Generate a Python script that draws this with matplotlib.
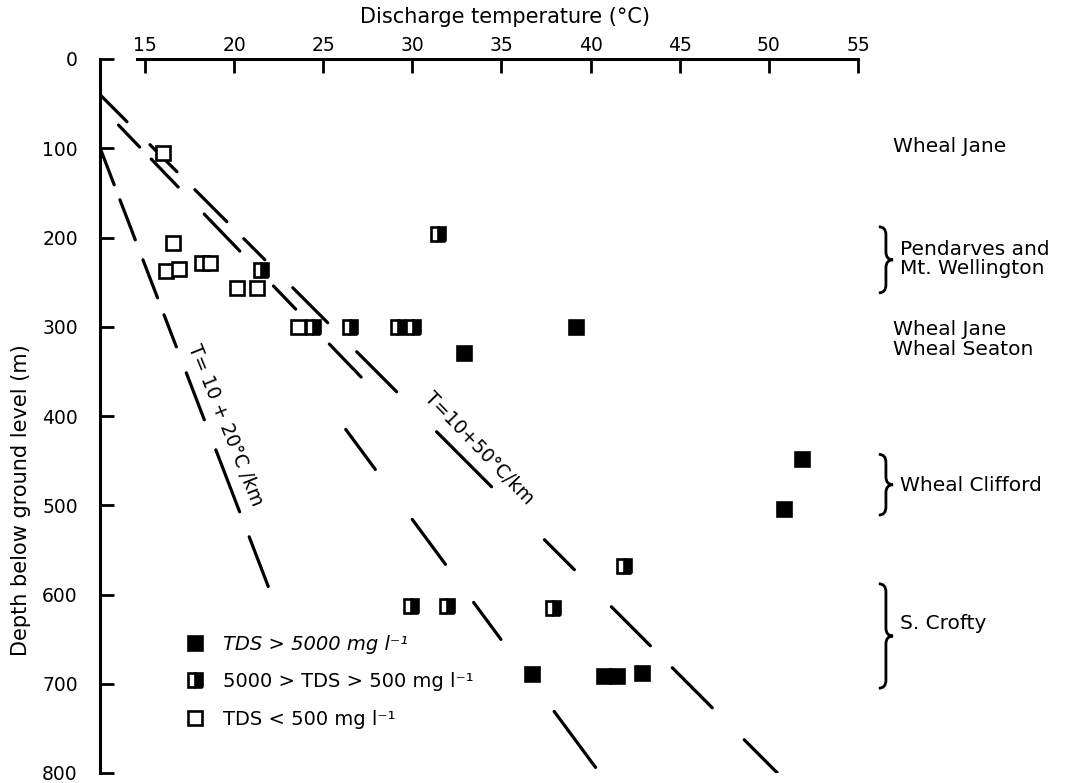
import matplotlib
matplotlib.use("Agg")
import matplotlib.pyplot as plt
import numpy as np
from matplotlib.path import Path
from matplotlib.patches import PathPatch
from matplotlib.lines import Line2D

plt.rcParams['font.family'] = ['DejaVu Sans']
plt.rcParams['lines.scale_dashes'] = False

# ---------------- data ----------------
# TDS < 500 mg/l (open squares)
low_T = [16.0, 16.55, 16.16, 16.9, 18.18, 18.65, 20.18, 21.26, 23.6]
low_d = [105, 206, 237, 235, 229, 229, 257, 257, 300]
# 5000 > TDS > 500 (half-filled squares)
mid_T = [21.5, 24.45, 26.5, 29.2, 30.05, 31.45, 29.9, 31.97, 37.9, 41.9]
mid_d = [236, 300, 300, 300, 300, 196, 613, 613, 615, 568]
# TDS > 5000 (filled squares)
high_T = [39.2, 32.9, 36.74, 40.74, 41.5, 42.9, 51.86, 50.85]
high_d = [300, 329, 689, 691, 691, 688, 448, 504]

# geothermal gradient lines: T = T0 + g * depth/1000
line_T0 = [10.48, 10.91, 10.57, 9.95]
line_g = [50.0, 37.0, 19.2, 48.2]
line_dstart = [40, 415, 99.5, 74]
line_dend = [800, 794, 591, 357]

xticks = [15, 20, 25, 30, 35, 40, 45, 50, 55]
yticks = [0, 100, 200, 300, 400, 500, 600, 700, 800]

# mine labels (right side)
mine_labels = ["Wheal Jane", "Pendarves and\nMt. Wellington", "Wheal Jane\nWheal Seaton",
               "Wheal Clifford", "S. Crofty"]
mine_label_d = [98, 224, 314, 478, 633]
brace_top = [None, 188, None, 443, 588]
brace_bot = [None, 262, None, 511, 705]

legend_labels = ["TDS > 5000 mg l\u207b\u00b9", "5000 > TDS > 500 mg l\u207b\u00b9",
                 "TDS < 500 mg l\u207b\u00b9"]

# ---------------- styles ----------------
# hand-drawn dash sequences, measured in vertical pixels along each line
dash_seq = [
    [27, 23, 27, 18, 32, 17, 21, 28, 35, 29, 40, 40, 55, 53, 30, 37, 39, 22, 40, 32, 33, 60],
    [40, 50, 45, 38, 37, 72, 56, 60],
    [37, 15, 40, 20, 38, 17, 32, 26, 47, 30, 62, 25, 50, 60],
    [22, 12, 28, 27, 37, 35, 23, 35, 33, 60],
]

W, H = 1068, 783
PX_PER_DEG = 17.83
PX_PER_M = 0.8925

fig = plt.figure(figsize=(W / 100, H / 100), dpi=100)
ax = fig.add_axes([100 / W, 1 - 773 / H, 758 / W, 714 / H])
ax.set_xlim(12.48, 55.0)
ax.set_ylim(800, 0)

ax.xaxis.tick_top()
ax.set_xticks(xticks)
ax.set_yticks(yticks)
ax.tick_params(axis='x', direction='in', length=10, width=2, pad=3, labelsize=13.5)
ax.tick_params(axis='y', direction='in', length=10, width=2, pad=16, labelsize=13.5)
ax.spines['bottom'].set_visible(False)
ax.spines['right'].set_visible(False)
ax.spines['top'].set_bounds(14.55, 55)
ax.spines['top'].set_linewidth(2.2)
ax.spines['left'].set_linewidth(2.2)

# gradient lines
for T0, g, d0, d1, seq in zip(line_T0, line_g, line_dstart, line_dend, dash_seq):
    d = np.array([d0, d1], dtype=float)
    T = T0 + g * d / 1000.0
    dxdy = (g / 1000.0 * PX_PER_DEG) / PX_PER_M
    pt_per_py = np.sqrt(1 + dxdy ** 2) * 0.72
    ax.plot(T, d, color='black', lw=2.3, dashes=[s * pt_per_py for s in seq],
            dash_capstyle='round')

# markers
ms, mew = 10.5, 1.9
ax.plot(low_T, low_d, 's', ms=ms, mew=mew, mec='black', mfc='white', ls='none', zorder=5)
ax.plot(mid_T, mid_d, 's', ms=ms, mew=mew, mec='black', mfc='black', fillstyle='right',
        markerfacecoloralt='white', ls='none', zorder=5)
ax.plot(high_T, high_d, 's', ms=ms, mew=mew, mec='black', mfc='black', ls='none', zorder=5)

# rotated line labels
ax.text(19.49, 410, "T= 10 + 20°C /km", rotation=-68, rotation_mode='anchor',
        ha='center', va='center', fontsize=13.5)
ax.text(33.73, 436, "T=10+50°C/km", rotation=-46, rotation_mode='anchor',
        ha='center', va='center', fontsize=13.5)

# right labels and braces
def T_of_px(px):
    return 15 + (px - 145) / PX_PER_DEG

def brace(x0, w, d0, d1, r=9):
    xm = x0 + w * 0.5
    x1 = x0 + w
    mid = 0.5 * (d0 + d1)
    verts = [(x0, d0), (xm, d0), (xm, d0 + r), (xm, mid - r), (xm, mid), (x1, mid),
             (xm, mid), (xm, mid + r), (xm, d1 - r), (xm, d1), (x0, d1)]
    codes = [Path.MOVETO, Path.CURVE3, Path.CURVE3, Path.LINETO, Path.CURVE3, Path.CURVE3,
             Path.CURVE3, Path.CURVE3, Path.LINETO, Path.CURVE3, Path.CURVE3]
    p = PathPatch(Path(verts, codes), fill=False, lw=2, color='black', clip_on=False)
    ax.add_patch(p)

for lab, d, bt, bb in zip(mine_labels, mine_label_d, brace_top, brace_bot):
    if bt is not None:
        brace(T_of_px(879), 0.8, bt, bb)
        xt = T_of_px(900)
    else:
        xt = T_of_px(893)
    ax.text(xt, d, lab, ha='left', va='center', fontsize=14.5, linespacing=1.05,
            clip_on=False)

# legend
handles = [
    Line2D([], [], marker='s', ls='none', ms=ms, mew=mew, mec='black', mfc='black'),
    Line2D([], [], marker='s', ls='none', ms=ms, mew=mew, mec='black', mfc='black',
           fillstyle='right', markerfacecoloralt='white'),
    Line2D([], [], marker='s', ls='none', ms=ms, mew=mew, mec='black', mfc='white'),
]
leg = ax.legend(handles, legend_labels, loc='upper left',
                bbox_to_anchor=(176 / W, 1 - 625 / H), bbox_transform=fig.transFigure,
                frameon=False, fontsize=14, handlelength=1.0, handletextpad=0.9,
                labelspacing=0.95, borderpad=0)
leg.get_texts()[0].set_fontstyle('italic')

fig.text(505 / W, 1 - 17 / H, "Discharge temperature (°C)", ha='center', va='center',
         fontsize=15)
fig.text(21 / W, 1 - 500 / H, "Depth below ground level (m)", ha='center', va='center',
         rotation=90, fontsize=15)

fig.savefig("out.png", dpi=100)
